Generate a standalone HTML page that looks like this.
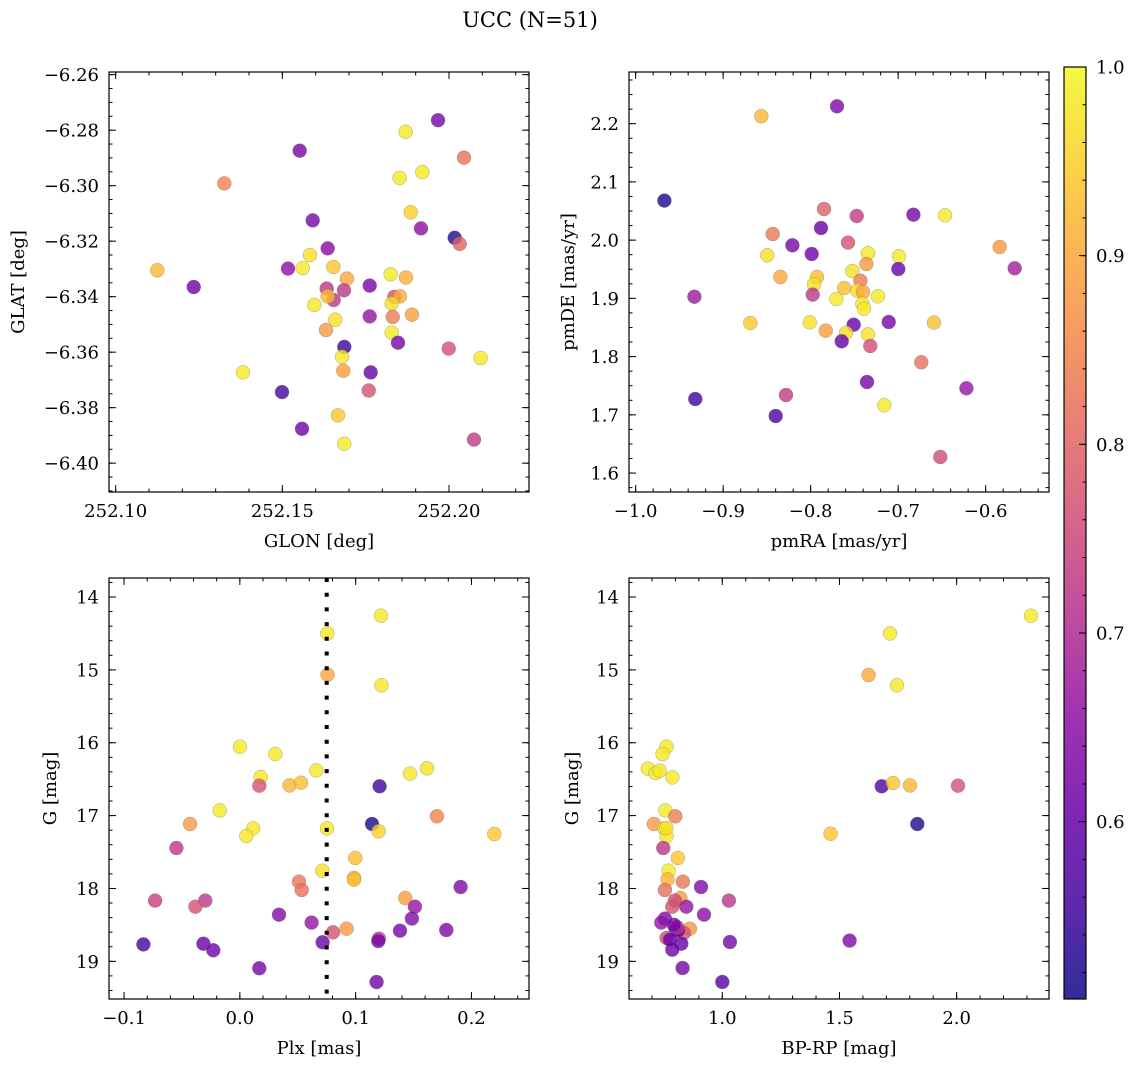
<!DOCTYPE html>
<html><head><meta charset="utf-8"><style>
html,body{margin:0;padding:0;background:#fff;}
svg{display:block;font-family:"DejaVu Serif","Liberation Serif",serif;}
</style></head><body>
<svg id="fig" width="1136" height="1067" viewBox="0 0 1136 1067" xmlns="http://www.w3.org/2000/svg">
<defs><linearGradient id="cbgrad" x1="0" y1="1" x2="0" y2="0"></linearGradient></defs>
<text x="530" y="27" font-size="21" text-anchor="middle">UCC (N=51)</text>
</svg>
<script>
// ---- Panel A: sky positions ----
const glon=[252.1967,252.1870,252.1552,252.2045,252.1326,252.1920,252.1852,252.1885,252.1591,252.1916,252.2017,252.2032,252.1636,252.1583,252.1125,252.1517,252.1561,252.1653,252.1234,252.1694,252.1825,252.1871,252.1762,252.1633,252.1685,252.1654,252.1636,252.1836,252.1853,252.1828,252.1596,252.1762,252.1831,252.1889,252.1659,252.1631,252.1828,252.1847,252.1686,252.1999,252.1679,252.2095,252.1382,252.1683,252.1765,252.1499,252.1759,252.1667,252.1559,252.1686,252.2075];
const glat=[-6.2764,-6.2806,-6.2874,-6.2899,-6.2992,-6.2951,-6.2972,-6.3096,-6.3125,-6.3154,-6.3188,-6.3210,-6.3226,-6.3250,-6.3305,-6.3299,-6.3297,-6.3293,-6.3365,-6.3335,-6.3319,-6.3331,-6.3360,-6.3371,-6.3377,-6.3412,-6.3399,-6.3401,-6.3399,-6.3425,-6.3430,-6.3471,-6.3473,-6.3465,-6.3483,-6.3520,-6.3530,-6.3566,-6.3581,-6.3587,-6.3617,-6.3621,-6.3673,-6.3667,-6.3673,-6.3744,-6.3738,-6.3828,-6.3876,-6.3930,-6.3915];
const probA=[0.62,0.98,0.62,0.82,0.85,0.98,0.98,0.95,0.62,0.65,0.52,0.80,0.64,0.97,0.92,0.65,0.98,0.94,0.61,0.90,0.98,0.91,0.62,0.72,0.72,0.72,0.93,0.76,0.91,0.97,0.98,0.66,0.84,0.89,0.97,0.88,0.98,0.62,0.55,0.77,0.98,0.98,0.98,0.89,0.60,0.56,0.77,0.94,0.61,0.98,0.73];
// ---- Panel B: proper motions ----
const pmra=[-0.7699,-0.8564,-0.9672,-0.7847,-0.7474,-0.6826,-0.6464,-0.7882,-0.8434,-0.8209,-0.7988,-0.7573,-0.5840,-0.8495,-0.7344,-0.6990,-0.7363,-0.5668,-0.6998,-0.8346,-0.7927,-0.7523,-0.7432,-0.7962,-0.9329,-0.7977,-0.7615,-0.7466,-0.7402,-0.7230,-0.7706,-0.7409,-0.7390,-0.8689,-0.8011,-0.7508,-0.7108,-0.6590,-0.7828,-0.7596,-0.7645,-0.7344,-0.7318,-0.6735,-0.7356,-0.6220,-0.7158,-0.9318,-0.8282,-0.8400,-0.6518];
const pmde=[2.2298,2.2126,2.0678,2.0535,2.0414,2.0437,2.0426,2.0208,2.0105,1.9911,1.9762,1.9957,1.9882,1.9739,1.9773,1.9722,1.9590,1.9516,1.9504,1.9367,1.9367,1.9470,1.9304,1.9241,1.9029,1.9064,1.9178,1.9132,1.9109,1.9035,1.8989,1.8909,1.8823,1.8577,1.8589,1.8548,1.8594,1.8583,1.8445,1.8405,1.8262,1.8382,1.8182,1.7902,1.7564,1.7455,1.7163,1.7272,1.7341,1.6980,1.6276];
const probB=[0.63,0.92,0.52,0.79,0.73,0.62,0.98,0.60,0.83,0.62,0.61,0.77,0.88,0.97,0.98,0.98,0.88,0.68,0.60,0.90,0.93,0.97,0.84,0.97,0.67,0.72,0.93,0.97,0.90,0.98,0.98,0.98,0.98,0.94,0.97,0.60,0.62,0.93,0.89,0.97,0.60,0.97,0.76,0.82,0.62,0.66,0.98,0.55,0.73,0.56,0.76];
// ---- Panel C: parallax vs G ----
const plx=[0.1219,0.0755,0.0758,0.1222,0.0001,0.0306,0.0660,0.0180,0.0168,0.0430,0.0528,0.1469,0.1616,0.1207,-0.0174,-0.0430,0.0114,0.0056,0.0753,0.1141,0.1199,0.1702,0.2197,-0.0548,0.0997,0.0712,0.0986,0.0986,0.0511,0.0534,0.1906,0.1429,-0.0732,-0.0298,-0.0384,0.1512,0.0338,0.1486,0.0620,0.1383,0.1783,0.0804,0.0922,0.1201,0.1196,0.0715,-0.0833,-0.0315,-0.0229,0.0168,0.1181];
const gC=[14.256,14.499,15.066,15.212,16.054,16.155,16.379,16.470,16.589,16.585,16.548,16.424,16.351,16.598,16.928,17.115,17.175,17.280,17.175,17.115,17.216,17.010,17.253,17.445,17.582,17.756,17.856,17.879,17.907,18.021,17.980,18.131,18.167,18.167,18.250,18.250,18.360,18.414,18.469,18.579,18.570,18.602,18.552,18.689,18.721,18.739,18.767,18.758,18.849,19.096,19.284];
const probC=[0.98,0.98,0.90,0.98,0.98,0.98,0.98,0.98,0.77,0.92,0.93,0.98,0.97,0.55,0.98,0.88,0.98,0.98,0.98,0.52,0.95,0.85,0.94,0.72,0.93,0.97,0.91,0.93,0.83,0.82,0.63,0.89,0.74,0.72,0.77,0.66,0.64,0.63,0.66,0.62,0.63,0.77,0.88,0.72,0.62,0.60,0.56,0.60,0.61,0.62,0.61];
// ---- Panel D: colour vs G ----
const bprp=[2.3172,1.7155,1.6245,1.7454,0.7624,0.7454,0.6828,0.7155,0.7326,0.7866,1.6800,1.7283,1.8009,2.0057,0.7568,0.7994,0.7084,0.7525,0.7624,1.8322,1.4623,0.7482,0.8108,0.7710,0.7667,0.8321,0.7553,0.9090,0.8208,0.7980,1.0284,0.7866,0.8464,0.9218,0.7553,0.7397,0.8009,0.8620,0.8364,0.7624,0.8108,0.8250,0.7866,1.0327,1.5434,0.8307,1.0000,0.7767,0.8080,0.7937,0.7610];
const gD=[14.256,14.499,15.070,15.212,16.054,16.155,16.356,16.415,16.383,16.475,16.598,16.553,16.585,16.589,16.928,17.010,17.115,17.175,17.285,17.115,17.248,17.445,17.582,17.756,17.875,17.907,18.021,17.980,18.131,18.167,18.167,18.250,18.250,18.360,18.414,18.469,18.565,18.552,18.611,18.680,18.579,18.758,18.840,18.735,18.716,19.091,19.284,18.703,18.533,18.497,17.170];
const probD=[0.98,0.98,0.90,0.98,0.98,0.98,0.98,0.98,0.98,0.98,0.57,0.94,0.92,0.77,0.98,0.84,0.88,0.98,0.98,0.52,0.94,0.72,0.94,0.98,0.92,0.83,0.82,0.63,0.89,0.76,0.72,0.77,0.66,0.65,0.63,0.66,0.60,0.88,0.77,0.76,0.60,0.60,0.61,0.62,0.63,0.62,0.58,0.60,0.72,0.62,0.97];
const plxLine=0.075;
const cbTicks=[0.6,0.7,0.8,0.9,1.0];
const vmin=0.506, vmax=1.0;

const NS="http://www.w3.org/2000/svg";
const svg=document.getElementById('fig');
const FS=18;
function mk(tag,attrs,parent){const e=document.createElementNS(NS,tag);for(const k in attrs)e.setAttribute(k,attrs[k]);(parent||svg).appendChild(e);return e;}
const stops=[[0,[13,8,135]],[0.1,[65,4,157]],[0.2,[106,0,168]],[0.3,[143,13,164]],[0.4,[177,42,144]],[0.5,[204,71,120]],[0.6,[225,100,98]],[0.7,[242,132,75]],[0.8,[252,166,54]],[0.9,[252,206,37]],[1,[240,249,33]]];
function plasma(t){t=Math.max(0,Math.min(1,t));for(let i=1;i<stops.length;i++){if(t<=stops[i][0]){const a=stops[i-1],b=stops[i];const f=(t-a[0])/(b[0]-a[0]);const c=a[1].map((v,j)=>Math.round(v+(b[1][j]-v)*f));return 'rgb('+c.join(',')+')';}}return 'rgb(240,249,33)';}
function fmt(v,d){const s=Math.abs(v).toFixed(d);return (v< -1e-9?'\u2212':'')+s;}

function panel(cfg){
  const g=mk('g',{});
  
  
  const {x0,y0,w,h,xmin,xmax,ymin,ymax,inv}=cfg;
  const sx=v=>x0+(v-xmin)/(xmax-xmin)*w;
  const sy=inv?(v=>y0+(v-ymin)/(ymax-ymin)*h):(v=>y0+h-(v-ymin)/(ymax-ymin)*h);
  const pg=mk('g',{},g);
  for(let i=0;i<cfg.xs.length;i++){
    const c=mk('circle',{cx:sx(cfg.xs[i]).toFixed(1),cy:sy(cfg.ys[i]).toFixed(1),r:7,fill:plasma((cfg.ps[i]-vmin)/(vmax-vmin)),'fill-opacity':0.8,stroke:'#777','stroke-opacity':0.6,'stroke-width':0.5},pg);
    
    
  }
  if(cfg.vline!==undefined){
    const l=mk('line',{x1:sx(cfg.vline),x2:sx(cfg.vline),y1:y0,y2:y0+h,stroke:'#000','stroke-width':4,'stroke-dasharray':'4 10.7'},g);
    
    
  }
  const fr=mk('rect',{x:x0,y:y0,width:w,height:h,fill:'none',stroke:'#000','stroke-width':1.2},g);
  
  
  const tk=mk('g',{stroke:'#000','stroke-width':1},g);
  const eps=1e-9;
  for(let v=Math.ceil(xmin/cfg.xmin_step-eps)*cfg.xmin_step;v<=xmax+eps;v+=cfg.xmin_step){const X=sx(v);mk('line',{x1:X,x2:X,y1:y0+h,y2:y0+h-3.5},tk);mk('line',{x1:X,x2:X,y1:y0,y2:y0+3.5},tk);}
  for(let v=Math.ceil(ymin/cfg.ymin_step-eps)*cfg.ymin_step;v<=ymax+eps;v+=cfg.ymin_step){const Y=sy(v);mk('line',{x1:x0,x2:x0+3.5,y1:Y,y2:Y},tk);mk('line',{x1:x0+w,x2:x0+w-3.5,y1:Y,y2:Y},tk);}
  cfg.xt.forEach(v=>{const X=sx(v);mk('line',{x1:X,x2:X,y1:y0+h,y2:y0+h-7},tk);mk('line',{x1:X,x2:X,y1:y0,y2:y0+7},tk);
    const t=mk('text',{x:X,y:y0+h+25,'font-size':FS,'text-anchor':'middle'},g);t.textContent=fmt(v,cfg.xd);
    });
  cfg.yt.forEach(v=>{const Y=sy(v);mk('line',{x1:x0,x2:x0+7,y1:Y,y2:Y},tk);mk('line',{x1:x0+w,x2:x0+w-7,y1:Y,y2:Y},tk);
    const t=mk('text',{x:x0-10,y:Y+6.5,'font-size':FS,'text-anchor':'end'},g);t.textContent=fmt(v,cfg.yd);
    });
  const xl=mk('text',{x:x0+w/2,y:y0+h+55,'font-size':FS,'text-anchor':'middle'},g);xl.textContent=cfg.xlabel;
  
  const yl=mk('text',{x:0,y:0,'font-size':FS,'text-anchor':'middle',transform:`translate(${cfg.ylx},${y0+h/2}) rotate(-90)`},g);yl.textContent=cfg.ylabel;
  
}
function range(a,b,s){const r=[];for(let v=a;v<=b+1e-9;v+=s)r.push(+v.toFixed(6));return r;}

panel({name:'sky-position-panel',x0:109,y0:72,w:420,h:420,xmin:252.098,xmax:252.224,ymin:-6.41039,ymax:-6.25904,inv:false,
  xs:glon,ys:glat,ps:probA,xt:range(252.10,252.20,0.05),yt:range(-6.40,-6.26,0.02),xd:2,yd:2,xmin_step:0.01,ymin_step:0.005,
  xlabel:'GLON [deg]',ylabel:'GLAT [deg]',ylx:24});
panel({name:'proper-motion-panel',x0:629,y0:72,w:420,h:420,xmin:-1.0076,xmax:-0.5276,ymin:1.5675,ymax:2.2887,inv:false,
  xs:pmra,ys:pmde,ps:probB,xt:range(-1.0,-0.6,0.1),yt:range(1.6,2.2,0.1),xd:1,yd:1,xmin_step:0.02,ymin_step:0.025,
  xlabel:'pmRA [mas/yr]',ylabel:'pmDE [mas/yr]',ylx:574});
panel({name:'parallax-magnitude-panel',x0:109,y0:578,w:420,h:421,xmin:-0.113,xmax:0.2497,ymin:13.739,ymax:19.517,inv:true,
  xs:plx,ys:gC,ps:probC,xt:range(-0.1,0.2,0.1),yt:range(14,19,1),xd:1,yd:0,xmin_step:0.02,ymin_step:0.2,
  xlabel:'Plx [mas]',ylabel:'G [mag]',ylx:56,vline:plxLine});
panel({name:'color-magnitude-panel',x0:629,y0:578,w:420,h:421,xmin:0.602,xmax:2.394,ymin:13.739,ymax:19.517,inv:true,
  xs:bprp,ys:gD,ps:probD,xt:range(1.0,2.0,0.5),yt:range(14,19,1),xd:1,yd:0,xmin_step:0.1,ymin_step:0.2,
  xlabel:'BP-RP [mag]',ylabel:'G [mag]',ylx:578});

const grad=document.getElementById('cbgrad');
for(let i=0;i<=20;i++){const t=i/20;mk('stop',{offset:t,'stop-color':plasma(t)},grad);}
const cb=mk('g',{});


const cx0=1064,cy0=67,cw=22,ch=932;
mk('rect',{x:cx0,y:cy0,width:cw,height:ch,fill:'url(#cbgrad)','fill-opacity':0.85},cb);
mk('rect',{x:cx0,y:cy0,width:cw,height:ch,fill:'none',stroke:'#000','stroke-width':1.2},cb);
const cy=v=>cy0+ch-(v-vmin)/(vmax-vmin)*ch;
for(let v=0.52;v<=1.0001;v+=0.02){mk('line',{x1:cx0+cw,x2:cx0+cw-3.5,y1:cy(v),y2:cy(v),stroke:'#000'},cb);}
cbTicks.forEach(v=>{mk('line',{x1:cx0+cw,x2:cx0+cw-7,y1:cy(v),y2:cy(v),stroke:'#000'},cb);
  const t=mk('text',{x:cx0+cw+10,y:cy(v)+6.5,'font-size':FS},cb);t.textContent=v.toFixed(1);
  });
</script>
</body></html>
